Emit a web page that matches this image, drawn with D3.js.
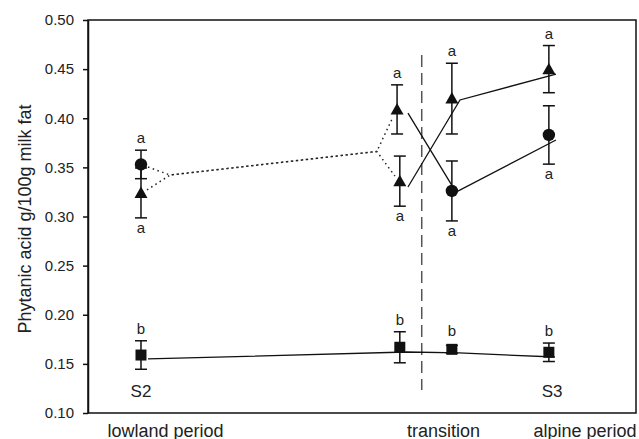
<!DOCTYPE html>
<html>
<head>
<meta charset="utf-8">
<script src="https://cdn.jsdelivr.net/npm/d3@7"></script>
<style>
  body { margin: 0; background: #fff; }
  svg { font-family: "Liberation Sans", Arial, sans-serif; }
</style>
</head>
<body>
<div id="chart"></div>
<script>
// Data. x = position along the time axis (0-100 of the axis width)
const periods = ["lowland period", "transition", "alpine period"];
const periodPos = [14.05, 64.8, 90.6];
const yTicks = [0.10, 0.15, 0.20, 0.25, 0.30, 0.35, 0.40, 0.45, 0.50];

// circles
const circleX = [9.67, 66.4, 84.1];
const circleY = [0.353, 0.326, 0.383];
const circleErr = [0.0145, 0.0305, 0.0297];
const circleLetters = ["a", "a", "a"];
const circleLetterPos = ["above", "below", "below"];

// triangles
const triX = [9.67, 56.4, 56.9, 66.4, 84.1];
const triY = [0.324, 0.409, 0.336, 0.420, 0.450];
const triErr = [0.0254, 0.025, 0.0255, 0.036, 0.024];
const triLetters = ["a", "a", "a", "a", "a"];
const triLetterPos = ["below", "above", "below", "above", "above"];

// squares
const squareX = [9.67, 56.9, 66.4, 84.1];
const squareY = [0.159, 0.1669, 0.1648, 0.1618];
const squareErr = [0.0145, 0.0158, 0.004, 0.0094];
const squareLetters = ["b", "b", "b", "b"];

// connecting lines (vertices as drawn in the figure)
const dottedUpper = [[10.95, 0.3504], [14.96, 0.3422], [52.7, 0.3662], [55.66, 0.4013]];
const dottedLower = [[10.77, 0.327], [14.96, 0.3422], [52.7, 0.3662], [56.0, 0.3412]];
const solidLine1 = [[58.39, 0.330], [67.88, 0.4186], [85.4, 0.4450]];
const solidLine2 = [[58.39, 0.4053], [67.15, 0.3249], [85.4, 0.3779]];
const squareLine = [[10.95, 0.155], [58.2, 0.1621], [67.7, 0.1611], [85.2, 0.157]];
const dividerX = 60.9;
const dividerY = [0.4644, 0.1234];

const sites = [{ label: "S2", x: 9.67 }, { label: "S3", x: 84.7 }];

const width = 639;
const height = 439;
const margin = { top: 20, right: 3, bottom: 26, left: 88 };
const innerWidth = width - margin.left - margin.right;
const innerHeight = height - margin.top - margin.bottom;

const xScale = d3.scaleLinear().domain([0, 100]).range([0, innerWidth]);
const yScale = d3.scaleLinear().domain([0.1, 0.5]).range([innerHeight, 0]);

const svg = d3.select("#chart")
  .append("svg")
    .attr("width", width)
    .attr("height", height);

const chart = svg.append("g")
  .attr("transform", `translate(${margin.left}, ${margin.top})`);

// frame
chart.append("rect")
  .attr("width", innerWidth)
  .attr("height", innerHeight)
  .attr("fill", "none")
  .attr("stroke", "#111")
  .attr("stroke-width", 1.5);

// y axis
const leftAxis = d3.axisLeft(yScale)
  .tickValues(yTicks)
  .tickFormat(d3.format(".2f"))
  .tickSize(5)
  .tickSizeOuter(0)
  .tickPadding(9);
chart.append("g")
  .attr("class", "axis axis-y")
  .call(leftAxis)
  .call(g => g.select(".domain").attr("stroke", "#111").attr("stroke-width", 1.5))
  .call(g => g.selectAll(".tick line").attr("stroke", "#111").attr("stroke-width", 1.5))
  .call(g => g.selectAll(".tick text")
    .attr("fill", "#222")
    .style("font-size", "15px")
    .style("font-family", "'Liberation Sans', Arial, sans-serif"));

// x axis: only period labels
const bottomAxis = d3.axisBottom(xScale)
  .tickValues(periodPos)
  .tickFormat((d, i) => periods[i])
  .tickSize(0)
  .tickPadding(11);
chart.append("g")
  .attr("class", "axis axis-x")
  .attr("transform", `translate(0, ${innerHeight})`)
  .call(bottomAxis)
  .call(g => g.select(".domain").remove())
  .call(g => g.selectAll(".tick text")
    .attr("fill", "#222")
    .style("font-size", "18px")
    .style("font-family", "'Liberation Sans', Arial, sans-serif"));

// y axis title
svg.append("text")
  .attr("transform", `translate(31, 219) rotate(-90)`)
  .attr("text-anchor", "middle")
  .attr("fill", "#222")
  .style("font-size", "18px")
  .text("Phytanic acid g/100g milk fat");

// divider between lowland and alpine
chart.append("line")
  .attr("x1", xScale(dividerX))
  .attr("x2", xScale(dividerX))
  .attr("y1", yScale(dividerY[0]))
  .attr("y2", yScale(dividerY[1]))
  .attr("stroke", "#555")
  .attr("stroke-width", 1.5)
  .attr("stroke-dasharray", "12,6");

// lines
const lineGenerator = d3.line()
  .x(d => xScale(d[0]))
  .y(d => yScale(d[1]));

[dottedUpper, dottedLower].forEach(pts => {
  chart.append("path")
    .attr("d", lineGenerator(pts))
    .attr("fill", "none")
    .attr("stroke", "#222")
    .attr("stroke-width", 1.5)
    .attr("stroke-dasharray", "1.5,3.5");
});
[solidLine1, solidLine2, squareLine].forEach(pts => {
  chart.append("path")
    .attr("d", lineGenerator(pts))
    .attr("fill", "none")
    .attr("stroke", "#111")
    .attr("stroke-width", 1.3);
});

// error bars + letters
const capHalf = 6;
const drawErrors = (xs, ys, errs, letters, pos) => {
  const data = xs.map((x, i) => ({ x: x, y: ys[i], e: errs[i], letter: letters[i], pos: pos[i] }));
  const g = chart.append("g");
  data.forEach(d => {
    const cx = xScale(d.x);
    const top = yScale(d.y + d.e);
    const bottom = yScale(d.y - d.e);
    g.append("line")
      .attr("x1", cx).attr("x2", cx)
      .attr("y1", top).attr("y2", bottom)
      .attr("stroke", "#111").attr("stroke-width", 1.5);
    [top, bottom].forEach(yy => {
      g.append("line")
        .attr("x1", cx - capHalf).attr("x2", cx + capHalf)
        .attr("y1", yy).attr("y2", yy)
        .attr("stroke", "#111").attr("stroke-width", 1.5);
    });
    g.append("text")
      .attr("x", cx)
      .attr("y", d.pos === "above" ? Math.min(top, yScale(d.y) - 6) - 7 : bottom + 15)
      .attr("text-anchor", "middle")
      .attr("fill", "#222")
      .style("font-size", "15px")
      .text(d.letter);
  });
};

drawErrors(squareX, squareY, squareErr, squareLetters, squareLetters.map(() => "above"));
drawErrors(triX, triY, triErr, triLetters, triLetterPos);
drawErrors(circleX, circleY, circleErr, circleLetters, circleLetterPos);

// markers
chart.selectAll("rect.square")
  .data(squareX.map((x, i) => ({ x: x, y: squareY[i] })))
  .join("rect")
    .attr("class", "square")
    .attr("x", d => xScale(d.x) - 5.5)
    .attr("y", d => yScale(d.y) - 5.5)
    .attr("width", 11)
    .attr("height", 11)
    .attr("fill", "#111");

chart.selectAll("path.triangle")
  .data(triX.map((x, i) => ({ x: x, y: triY[i] })))
  .join("path")
    .attr("class", "triangle")
    .attr("d", d => {
      const cx = xScale(d.x), cy = yScale(d.y);
      return `M${cx},${cy - 6.5}L${cx + 6.5},${cy + 5}L${cx - 6.5},${cy + 5}Z`;
    })
    .attr("fill", "#111");

chart.selectAll("circle.dot")
  .data(circleX.map((x, i) => ({ x: x, y: circleY[i] })))
  .join("circle")
    .attr("class", "dot")
    .attr("cx", d => xScale(d.x))
    .attr("cy", d => yScale(d.y))
    .attr("r", 6.2)
    .attr("fill", "#111");

// site labels
chart.selectAll("text.site")
  .data(sites)
  .join("text")
    .attr("class", "site")
    .attr("x", d => xScale(d.x))
    .attr("y", yScale(0.1) - 16.5)
    .attr("text-anchor", "middle")
    .attr("fill", "#222")
    .style("font-size", "17px")
    .text(d => d.label);
</script>
</body>
</html>
